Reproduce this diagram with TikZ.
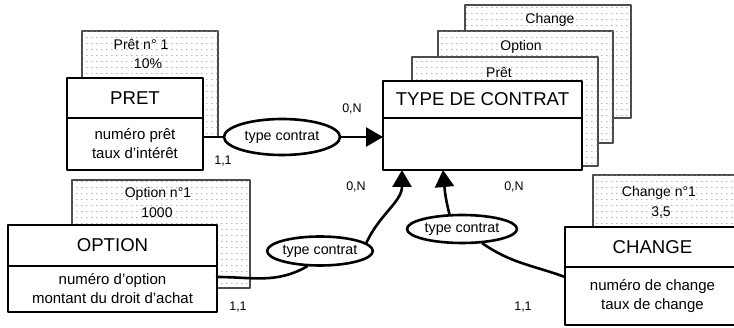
\documentclass[tikz,border=0pt]{standalone}
\usepackage{fontspec}
\setmainfont{Liberation Sans}
\usetikzlibrary{arrows.meta}
\usetikzlibrary{calc}
\usetikzlibrary{patterns}
\usetikzlibrary{shapes.geometric}

\pgfdeclarepatternformonly{fichedots}{\pgfpointorigin}{\pgfpoint{5pt}{6pt}}{\pgfpoint{5pt}{6pt}}{%
  \pgfpathrectangle{\pgfpoint{1.5pt}{2.5pt}}{\pgfpoint{1.4pt}{0.7pt}}\pgfusepath{fill}}

\begin{document}
\begin{tikzpicture}[x=1pt, y=-1pt, line cap=round, line join=round,
    fiche/.style={draw=black!70, line width=1.2pt, fill=white,
        postaction={pattern=fichedots, pattern color=black!45},
        inner sep=0pt, outer sep=0pt, anchor=north west},
    fichetext/.style={font=\fontsize{14}{16}\selectfont, inner sep=0pt},
    entete/.style={draw, line width=2.8pt, fill=white, inner sep=0pt, outer sep=0pt,
        anchor=north west, font=\fontsize{18.6}{21}\selectfont},
    attributs/.style={draw, line width=2.8pt, fill=white, inner sep=0pt, outer sep=0pt,
        anchor=north, align=center, font=\fontsize{15}{19}\selectfont},
    relation/.style={ellipse, draw, line width=2.6pt, fill=white, inner sep=0pt,
        font=\fontsize{14.3}{17}\selectfont},
    lien/.style={line width=2.6pt},
    fleche/.style={lien, -{Triangle[length=17pt, width=19pt]}},
    cardinalite/.style={font=\fontsize{12.5}{15}\selectfont, inner sep=0pt}]

    \useasboundingbox (0,0) rectangle (734,328);

    % PRET
    \node[fiche, minimum width=136pt, minimum height=106pt] (pretfiche) at (82,31) {};
    \node[fichetext] (pretnum) at (141,44) {Prêt n° 1};
    \node[fichetext] (pretval) at (148,64) {10\%};
    \node[entete, minimum width=136pt, minimum height=40pt] (pret) at (67,78) {PRET};
    \node[attributs, minimum width=136pt, minimum height=52pt] (pretattr) at (pret.south) {numéro prêt\\taux d'intérêt};

    % TYPE DE CONTRAT
    \node[fiche, minimum width=166pt, minimum height=113pt] (chgfiche2) at (465,5) {};
    \node[fichetext] (chgnom) at (550,20) {Change};
    \node[fiche, minimum width=175pt, minimum height=112pt] (optfiche2) at (438,31) {};
    \node[fichetext] (optnom) at (521,47) {Option};
    \node[fiche, minimum width=186pt, minimum height=109pt] (pretfiche2) at (412,57) {};
    \node[fichetext] (pretnom) at (499,72) {Prêt};
    \node[entete, minimum width=199pt, minimum height=37pt] (type) at (383,81) {TYPE DE CONTRAT};
    \node[attributs, minimum width=199pt, minimum height=52pt] (typeattr) at (type.south) {};

    % OPTION
    \node[fiche, minimum width=178pt, minimum height=108pt] (optfiche) at (72,180) {};
    \node[fichetext] (optnum) at (158,194) {Option n°1};
    \node[fichetext] (optval) at (157,213) {1000};
    \node[entete, minimum width=209pt, minimum height=41pt] (option) at (8,225) {OPTION};
    \node[attributs, minimum width=209pt, minimum height=46pt] (optattr) at (option.south) {numéro d'option\\montant du droit d'achat};

    % CHANGE
    \node[fiche, minimum width=150pt, minimum height=60pt] (chgfiche) at (593,175) {};
    \node[fichetext] (chgnum) at (659,193) {Change n°1};
    \node[fichetext] (chgval) at (661,213) {3,5};
    \node[entete, minimum width=175pt, minimum height=40pt] (change) at (565,227) {CHANGE};
    \node[attributs, minimum width=175pt, minimum height=58pt] (chgattr) at (change.south) {numéro de change\\taux de change};

    % relations
    \node[relation, minimum width=116pt, minimum height=36pt] (rel1) at (282,137) {type contrat};
    \node[relation, minimum width=105pt, minimum height=29pt] (rel2) at (320,251) {type contrat};
    \node[relation, minimum width=110pt, minimum height=28pt] (rel3) at (462,229) {type contrat};

    \coordinate (typein2) at ([xshift=19pt]typeattr.south west);
    \coordinate (typein3) at ([xshift=60pt]typeattr.south west);

    \draw[lien] (rel1.west) -- (rel1.west -| pretattr.east);
    \draw[fleche] (rel1.east) -- (rel1.east -| typeattr.west);

    \draw[lien] ([yshift=12pt]optattr.east) to[out=0, in=-150] (rel2.-130);
    \draw[fleche] (rel2.10) to[out=65, in=-90] (typein2);

    \draw[fleche] (rel3.130) to[out=105, in=-85] (typein3);
    \draw[lien] (rel3.-35) to[out=-35, in=160] ([yshift=19pt]chgattr.west);

    % cardinalites
    \node[cardinalite] (c1n) at (352,109) {0,N};
    \node[cardinalite] (c1u) at (223,161) {1,1};
    \node[cardinalite] (c2n) at (356,187) {0,N};
    \node[cardinalite] (c2u) at (238,307) {1,1};
    \node[cardinalite] (c3n) at (514,187) {0,N};
    \node[cardinalite] (c3u) at (523,307) {1,1};

\end{tikzpicture}
\end{document}
